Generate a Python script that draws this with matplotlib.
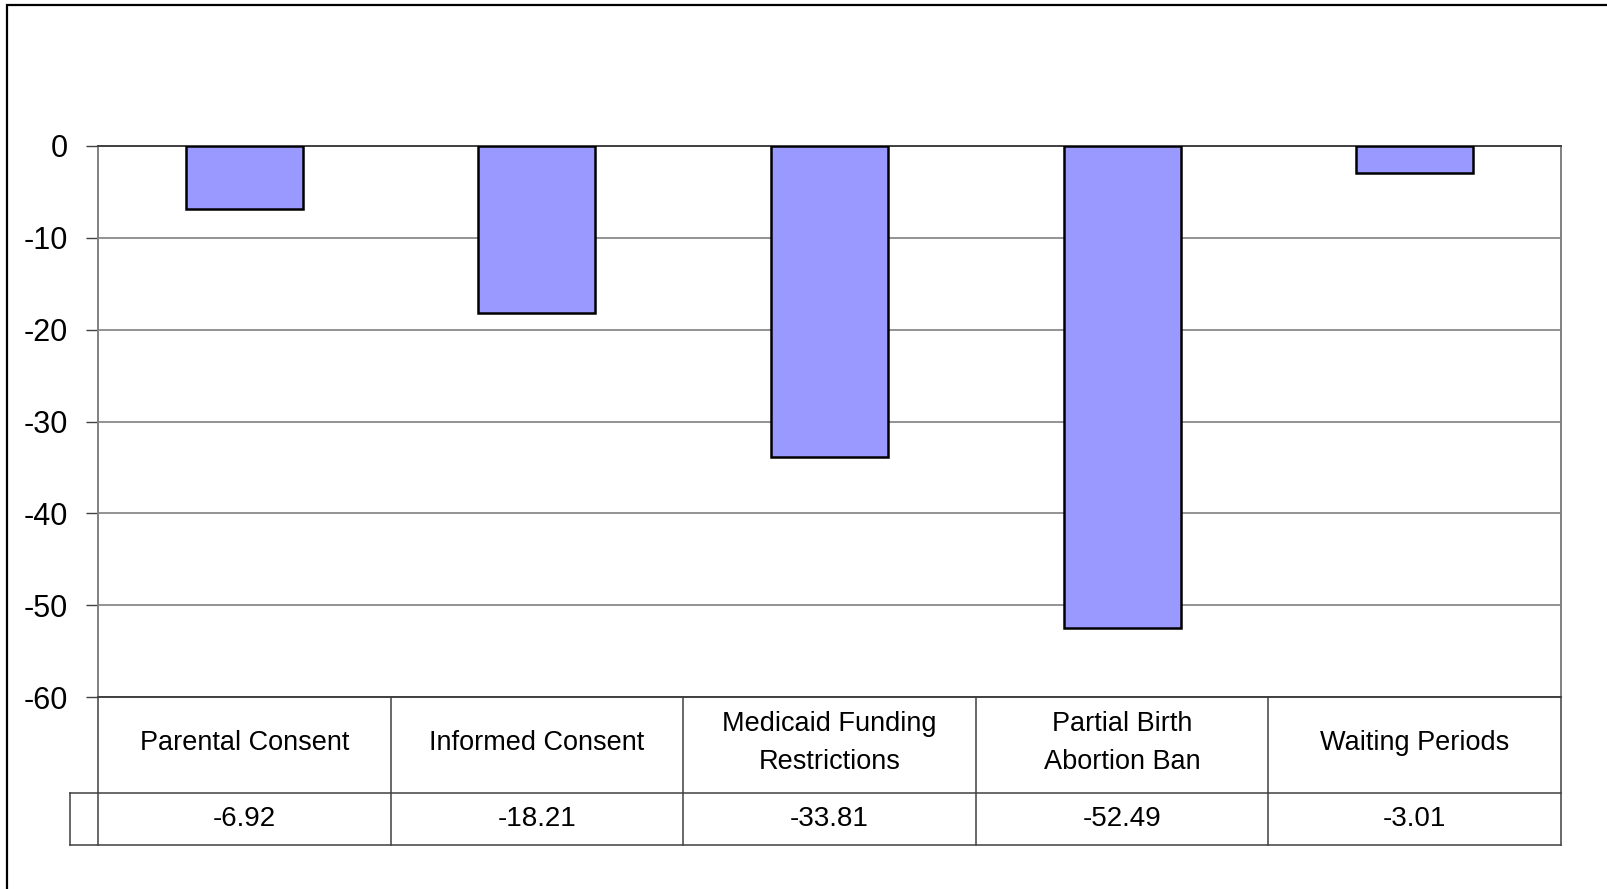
import matplotlib.pyplot as plt
import matplotlib.transforms as mtransforms
from matplotlib.patches import Rectangle

plt.rcParams['font.family'] = ['Liberation Sans', 'DejaVu Sans']

# data
categories = ['Parental Consent', 'Informed Consent', 'Medicaid Funding\nRestrictions',
              'Partial Birth\nAbortion Ban', 'Waiting Periods']
values = [-6.92, -18.21, -33.81, -52.49, -3.01]
value_labels = ['-6.92', '-18.21', '-33.81', '-52.49', '-3.01']
yticks = [0, -10, -20, -30, -40, -50, -60]

fig = plt.figure(figsize=(16.08, 8.89), dpi=100)
ax = fig.add_axes([0.0609, 0.2156, 0.9099, 0.6205])

x = list(range(len(values)))
ax.bar(x, values, width=0.4, color='#9999FF', edgecolor='black', linewidth=1.8, zorder=3)

ax.set_xlim(-0.5, len(values) - 0.5)
ax.set_ylim(-60, 0)
ax.set_yticks(yticks)
ax.set_yticklabels([str(t) for t in yticks])
ax.tick_params(axis='y', length=8.6, width=1, color='#404040', labelsize=22, pad=13)
ax.set_xticks([])
ax.yaxis.grid(True, color='#808080', linewidth=1.2, zorder=0)
ax.set_axisbelow(True)

for side in ['left', 'right', 'bottom']:
    ax.spines[side].set_color('#808080')
    ax.spines[side].set_linewidth(1.4)
ax.spines['top'].set_color('#404040')
ax.spines['top'].set_linewidth(1.4)
ax.spines['bottom'].set_color('#404040')

# data table under the plot
trans = mtransforms.blended_transform_factory(ax.transData, ax.transAxes)
y_cat = -0.173
y_val = -0.268
x_left = -0.596
line_kw = dict(color='#404040', linewidth=1.1, transform=trans, clip_on=False)

for b in [i - 0.5 for i in range(len(values) + 1)]:
    ax.plot([b, b], [0, y_val], **line_kw)
ax.plot([x_left, len(values) - 0.5], [y_cat, y_cat], **line_kw)
ax.plot([x_left, len(values) - 0.5], [y_val, y_val], **line_kw)
ax.plot([x_left, x_left], [y_cat, y_val], **line_kw)

for i, (cat, lab) in enumerate(zip(categories, value_labels)):
    ax.text(i, -0.083, cat, transform=trans, ha='center', va='center',
            fontsize=19.5, linespacing=1.6)
    ax.text(i, (y_cat + y_val) / 2, lab, transform=trans, ha='center', va='center',
            fontsize=20)

# outer chart border
fig.patches.append(Rectangle((7 / 1608, -0.2), 1.2, 1.2 - 5 / 889, transform=fig.transFigure,
                             fill=False, edgecolor='black', linewidth=1.6))

fig.savefig('out.png', dpi=100, facecolor='white')
